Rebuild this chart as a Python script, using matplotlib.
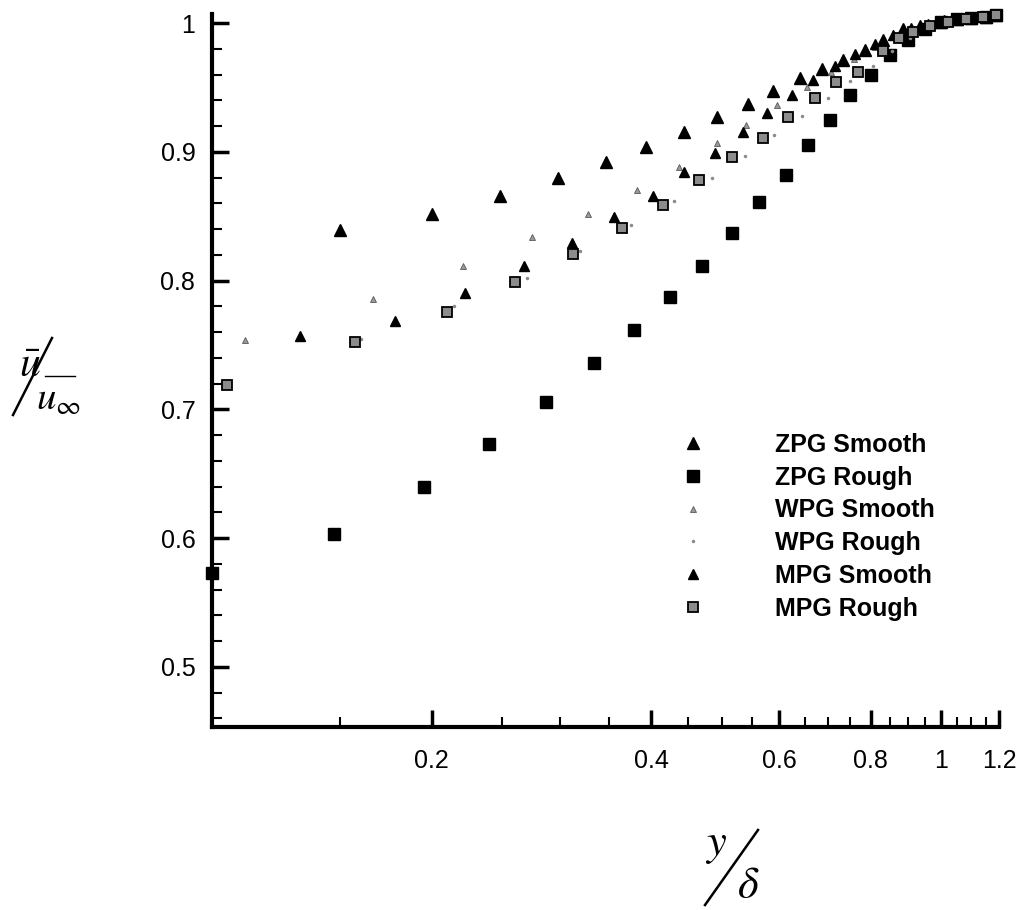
import numpy as np
import matplotlib
matplotlib.use("Agg")
import matplotlib.pyplot as plt
from matplotlib.ticker import FixedLocator, NullFormatter

plt.rcParams["font.family"] = ["Liberation Sans", "DejaVu Sans"]
plt.rcParams["mathtext.fontset"] = "stix"

# velocity profiles, y/delta vs u/u_inf
zpg_smooth_x = [0.150, 0.200, 0.248, 0.298, 0.347, 0.394, 0.444, 0.492, 0.543, 0.587,
                0.640, 0.686, 0.733, 0.786, 0.832, 0.885, 0.935, 0.996, 1.05, 1.10, 1.15, 1.19]
zpg_smooth_y = [0.839, 0.852, 0.866, 0.880, 0.892, 0.904, 0.915, 0.927, 0.937, 0.947,
                0.957, 0.964, 0.971, 0.979, 0.987, 0.995, 0.998, 1.001, 1.003, 1.004, 1.005, 1.006]

zpg_rough_x = [0.100, 0.147, 0.195, 0.240, 0.287, 0.334, 0.379, 0.425, 0.470, 0.517,
               0.562, 0.612, 0.657, 0.703, 0.750, 0.800, 0.850, 0.900, 0.950, 1.00, 1.05, 1.10, 1.15, 1.19]
zpg_rough_y = [0.573, 0.603, 0.640, 0.673, 0.706, 0.736, 0.762, 0.787, 0.811, 0.837,
               0.861, 0.882, 0.905, 0.925, 0.944, 0.960, 0.975, 0.987, 0.995, 1.001, 1.003, 1.004, 1.005, 1.006]

wpg_smooth_x = [0.111, 0.166, 0.221, 0.275, 0.328, 0.383, 0.437, 0.492, 0.540, 0.595,
                0.654, 0.705, 0.758, 0.810, 0.860, 0.912, 0.965, 1.02, 1.08, 1.13, 1.18]
wpg_smooth_y = [0.754, 0.786, 0.811, 0.834, 0.852, 0.870, 0.888, 0.907, 0.921, 0.936,
                0.950, 0.962, 0.972, 0.981, 0.989, 0.995, 0.999, 1.002, 1.004, 1.005, 1.006]

wpg_rough_x = [0.105, 0.160, 0.215, 0.270, 0.320, 0.375, 0.430, 0.485, 0.538, 0.590,
               0.645, 0.700, 0.750, 0.805, 0.855, 0.905, 0.960, 1.01, 1.07, 1.12, 1.17]
wpg_rough_y = [0.722, 0.755, 0.780, 0.802, 0.823, 0.843, 0.862, 0.880, 0.897, 0.913,
               0.928, 0.942, 0.955, 0.967, 0.978, 0.988, 0.996, 1.001, 1.003, 1.005, 1.006]

mpg_smooth_x = [0.132, 0.178, 0.222, 0.268, 0.312, 0.356, 0.402, 0.444, 0.489, 0.535,
                0.577, 0.624, 0.667, 0.715, 0.762, 0.810, 0.860, 0.910, 0.960, 1.01, 1.07, 1.12, 1.17]
mpg_smooth_y = [0.757, 0.769, 0.790, 0.811, 0.829, 0.849, 0.866, 0.884, 0.899, 0.915,
                0.930, 0.944, 0.956, 0.967, 0.976, 0.984, 0.991, 0.996, 0.999, 1.002, 1.004, 1.005, 1.006]

mpg_rough_x = [0.105, 0.157, 0.210, 0.260, 0.313, 0.365, 0.415, 0.466, 0.516, 0.570,
               0.616, 0.671, 0.718, 0.770, 0.832, 0.876, 0.915, 0.965, 1.02, 1.08, 1.14, 1.19]
mpg_rough_y = [0.719, 0.752, 0.776, 0.799, 0.821, 0.841, 0.859, 0.878, 0.896, 0.911,
               0.927, 0.942, 0.954, 0.962, 0.978, 0.988, 0.993, 0.998, 1.001, 1.003, 1.005, 1.006]

labels = ["ZPG Smooth", "ZPG Rough", "WPG Smooth", "WPG Rough", "MPG Smooth", "MPG Rough"]

fig = plt.figure(figsize=(10.17, 9.10), dpi=100)
ax = fig.add_axes([212 / 1017, 1 - 727 / 910, (999 - 212) / 1017, (727 - 14) / 910])

ax.plot(zpg_smooth_x, zpg_smooth_y, ls="none", marker="^", ms=9, color="k",
        clip_on=False, label=labels[0])
ax.plot(zpg_rough_x, zpg_rough_y, ls="none", marker="s", ms=8.5, color="k",
        clip_on=False, label=labels[1])
ax.plot(wpg_smooth_x, wpg_smooth_y, ls="none", marker="^", ms=5, mfc="0.6", mec="0.35",
        mew=0.6, clip_on=False, label=labels[2])
ax.plot(wpg_rough_x, wpg_rough_y, ls="none", marker="o", ms=1.5, color="0.55",
        clip_on=False, label=labels[3])
ax.plot(mpg_smooth_x, mpg_smooth_y, ls="none", marker="^", ms=7.5, color="k",
        clip_on=False, label=labels[4])
ax.plot(mpg_rough_x, mpg_rough_y, ls="none", marker="s", ms=7, mfc="0.55", mec="k",
        mew=1.3, clip_on=False, label=labels[5])

ax.set_xscale("log")
ax.set_xlim(0.1, 1.2)
ax.set_ylim(0.4534, 1.007)

major_x = [0.2, 0.4, 0.6, 0.8, 1.0, 1.2]
minor_x = [0.15, 0.25, 0.3, 0.35, 0.45, 0.5, 0.55, 0.65, 0.7, 0.75, 0.85, 0.9, 0.95, 1.05, 1.1, 1.15]
ax.xaxis.set_major_locator(FixedLocator(major_x))
ax.xaxis.set_minor_locator(FixedLocator(minor_x))
ax.set_xticklabels(["0.2", "0.4", "0.6", "0.8", "1", "1.2"])
ax.xaxis.set_minor_formatter(NullFormatter())

ax.yaxis.set_major_locator(FixedLocator([0.5, 0.6, 0.7, 0.8, 0.9, 1.0]))
ax.yaxis.set_minor_locator(FixedLocator(np.arange(0.46, 1.0, 0.02)))
ax.set_yticklabels(["0.5", "0.6", "0.7", "0.8", "0.9", "1"])

for s in ["top", "right"]:
    ax.spines[s].set_visible(False)
for s in ["left", "bottom"]:
    ax.spines[s].set_linewidth(3)

ax.tick_params(which="major", direction="in", length=12, width=2.5, labelsize=18, pad=12)
ax.tick_params(which="minor", direction="in", length=7, width=1.5)
ax.tick_params(axis="x", which="major", pad=16)

leg = ax.legend(loc="upper left", bbox_to_anchor=(0.567, 0.444), frameon=False,
                handlelength=1.0, handletextpad=2.78, labelspacing=0.35,
                prop={"weight": "bold", "size": 18})

# axis titles built from pieces: u-bar over u_inf, y over delta
fig.text(30 / 1017, 1 - 366 / 910, "$\\bar{u}$", fontsize=30, ha="center", va="center")
fig.add_artist(plt.Line2D([13 / 1017, 52 / 1017], [1 - 415 / 910, 1 - 338 / 910], color="k", lw=1.8))
fig.add_artist(plt.Line2D([45 / 1017, 75 / 1017], [1 - 376 / 910, 1 - 376 / 910], color="k", lw=1.0))
fig.text(58 / 1017, 1 - 400 / 910, "$u_{\\infty}$", fontsize=28, ha="center", va="center")

fig.text(716 / 1017, 1 - 846 / 910, "$y$", fontsize=32, ha="center", va="center")
fig.add_artist(plt.Line2D([705 / 1017, 758 / 1017], [1 - 905 / 910, 1 - 830 / 910], color="k", lw=1.8))
fig.text(748 / 1017, 1 - 886 / 910, "$\\delta$", fontsize=32, ha="center", va="center")

fig.savefig("out.png", dpi=100)
